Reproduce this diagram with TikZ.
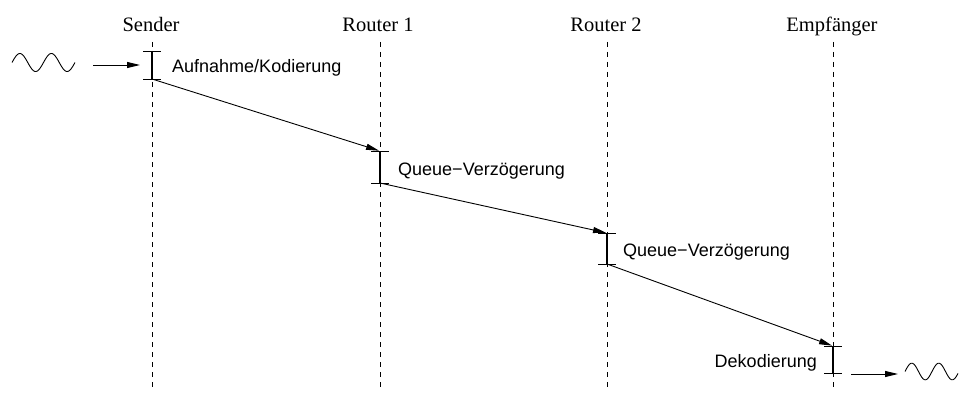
\documentclass[tikz,border=0pt]{standalone}
\usepackage{fontspec}
\setmainfont{Liberation Serif}
\setsansfont{Liberation Sans}
\usetikzlibrary{arrows.meta}
\begin{document}
\begin{tikzpicture}[x=1pt,y=-1pt,
  head/.style={font=\fontsize{20.5}{24}\selectfont, anchor=base, inner sep=0pt},
  lbl/.style={font=\sffamily\fontsize{18}{21}\selectfont, inner sep=0pt},
  lifeline/.style={dash pattern=on 5pt off 5pt, line width=0.8pt},
  barline/.style={line width=1.3pt},
  tickline/.style={line width=0.8pt},
  msg/.style={line width=0.9pt, -{Triangle[length=13pt,width=6pt]}},
  wave/.style={line width=0.9pt}]
\useasboundingbox (0,0) rectangle (959,396);

% heads
\node[head] (hS) at (151,32) {Sender};
\node[head] (hR1) at (378,32) {Router 1};
\node[head] (hR2) at (606,32) {Router 2};
\node[head] (hE) at (832,32) {Empfänger};

% lifelines
\foreach \n/\x in {S/152,R1/380,R2/607,E/833}{
  \coordinate (t\n) at (\x,42);
  \coordinate (b\n) at (\x,390);
  \draw[lifeline] (t\n) -- (b\n);
}

% bar end points
\coordinate (S1) at (152,51);  \coordinate (S2) at (152,79);
\coordinate (Ra1) at (380,151); \coordinate (Ra2) at (380,183);
\coordinate (Rb1) at (607,233); \coordinate (Rb2) at (607,264);
\coordinate (E1) at (833,346); \coordinate (E2) at (833,373);

\foreach \a/\b in {S1/S2,Ra1/Ra2,Rb1/Rb2,E1/E2}{
  \draw[barline] (\a) -- (\b);
  \draw[tickline] ([xshift=-9pt]\a) -- ([xshift=9pt]\a);
  \draw[tickline] ([xshift=-9pt]\b) -- ([xshift=9pt]\b);
}

% messages
\draw[msg, shorten >=1pt] (S2) -- (Ra1);
\draw[msg, shorten >=1pt] (Ra2) -- (Rb1);
\draw[msg, shorten >=1pt] (Rb2) -- (E1);

% labels
\node[lbl, anchor=base west] (l1) at (172,73) {Aufnahme/Kodierung};
\node[lbl, anchor=base west] (l2) at (398,175) {Queue−Verzögerung};
\node[lbl, anchor=base west] (l3) at (623,256) {Queue−Verzögerung};
\node[lbl, anchor=base east] (l4) at (817,367) {Dekodierung};

% input wave and arrow
\draw[wave, domain=0:63, samples=90, smooth, variable=\t]
  plot ({12+\t},{62.5-9*sin(\t/31.5*360)});
\coordinate (inA) at (93,65);
\coordinate (inB) at (140,65);
\draw[msg] (inA) -- (inB);

% output arrow and wave
\coordinate (outA) at (851,374);
\coordinate (outB) at (898,374);
\draw[msg] (outA) -- (outB);
\draw[wave, domain=0:53, samples=90, smooth, variable=\t]
  plot ({905+\t},{371.5-8.3*sin(\t/27*360)});
\end{tikzpicture}
\end{document}
